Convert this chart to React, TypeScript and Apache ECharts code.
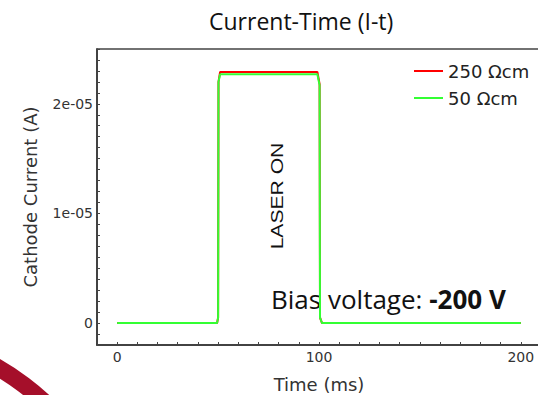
import React, { useEffect, useRef } from "react";
import * as echarts from "echarts";

// Time samples (ms) and cathode current (A) for each resistivity
const time250 = [0, 49.5, 50, 50.2, 51, 99.2, 100.3, 100.5, 101.5, 200];
const current250 = [0, 0, 5e-7, 2.2e-5, 2.29e-5, 2.29e-5, 2.18e-5, 5e-7, 0, 0];

const time50 = [0, 49.5, 50, 50.2, 51, 99.2, 100.3, 100.5, 101.5, 200];
const current50 = [0, 0, 5e-7, 2.2e-5, 2.27e-5, 2.27e-5, 2.17e-5, 5e-7, 0, 0];

const seriesNames = ["250 Ωcm", "50 Ωcm"];
const xTickLabels = [0, 100, 200];
const yTickLabels: [number, string][] = [
  [0, "0"],
  [1e-5, "1e-05"],
  [2e-5, "2e-05"],
];

const zip = (xs: number[], ys: number[]) => xs.map((x, i) => [x, ys[i]]);

const AXIS_FONT = "DejaVu Sans";

export default function App() {
  const ref = useRef<HTMLDivElement>(null);

  useEffect(() => {
    if (!ref.current) return;
    const chart = echarts.init(ref.current, null, { renderer: "svg" });
    chart.setOption({
      animation: false,
      backgroundColor: "#ffffff",
      title: {
        text: "Current-Time (I-t)",
        left: 204,
        top: 4,
        textStyle: {
          fontFamily: "Open Sans",
          fontSize: 23,
          fontWeight: "normal",
          color: "#111",
        },
      },
      legend: {
        data: seriesNames,
        orient: "vertical",
        left: 414,
        top: 62,
        padding: 0,
        icon: "rect",
        itemWidth: 29,
        itemHeight: 2,
        itemGap: 9,
        itemStyle: { borderWidth: 0 },
        textStyle: {
          fontFamily: AXIS_FONT,
          fontSize: 18,
          lineHeight: 18,
          color: "#222",
        },
      },
      grid: {
        left: 97,
        top: 49,
        width: 444,
        height: 296,
        outerBoundsMode: "none",
        containLabel: false,
        show: true,
        borderColor: "#444",
        borderWidth: 1.5,
        backgroundColor: "transparent",
      },
      xAxis: {
        type: "value",
        min: -10,
        max: 210,
        interval: 10,
        name: "Time (ms)",
        nameLocation: "middle",
        nameGap: 30,
        nameTextStyle: { fontFamily: AXIS_FONT, fontSize: 18, color: "#333" },
        axisLine: { onZero: false, lineStyle: { color: "#333", width: 1.5 } },
        axisTick: { inside: true, length: 3, lineStyle: { color: "#444" } },
        splitLine: { show: false },
        axisLabel: {
          margin: 5,
          fontFamily: AXIS_FONT,
          fontSize: 14,
          color: "#333",
          formatter: (v: number) => {
            const r = Math.round(v);
            return xTickLabels.includes(r) ? String(r) : "";
          },
        },
      },
      yAxis: {
        type: "value",
        min: -2e-6,
        max: 2.5e-5,
        interval: 1e-6,
        name: "Cathode Current (A)",
        nameLocation: "middle",
        nameGap: 58,
        nameTextStyle: { fontFamily: AXIS_FONT, fontSize: 18, color: "#333" },
        axisLine: { onZero: false, lineStyle: { color: "#333", width: 1.5 } },
        axisTick: { inside: true, length: 3, lineStyle: { color: "#444" } },
        splitLine: { show: false },
        axisLabel: {
          margin: 4,
          fontFamily: AXIS_FONT,
          fontSize: 14,
          color: "#333",
          formatter: (v: number) => {
            const hit = yTickLabels.find(([t]) => Math.abs(t - v) < 1e-7);
            return hit ? hit[1] : "";
          },
        },
      },
      series: [
        {
          name: seriesNames[0],
          type: "line",
          data: zip(time250, current250),
          showSymbol: false,
          color: "#ff0000",
          lineStyle: { color: "#ff0000", width: 2 },
        },
        {
          name: seriesNames[1],
          type: "line",
          data: zip(time50, current50),
          showSymbol: false,
          color: "#33ff33",
          lineStyle: { color: "#33ff33", width: 2 },
        },
      ],
      graphic: [
        {
          type: "text",
          x: 277,
          y: 196,
          rotation: Math.PI / 2,
          scaleX: 1.28,
          style: {
            text: "LASER ON",
            fontFamily: "Liberation Sans",
            fontSize: 16.5,
            fill: "#111",
            align: "center",
            verticalAlign: "middle",
          },
        },
        {
          type: "text",
          x: 271,
          y: 299,
          style: {
            text: "{a|Bias voltage: }{b|-200 V}",
            verticalAlign: "middle",
            rich: {
              a: { fontFamily: "Open Sans", fontSize: 26, fill: "#111" },
              b: {
                fontFamily: "Open Sans",
                fontSize: 26,
                fontWeight: "bold",
                fill: "#111",
              },
            },
          },
        },
        {
          type: "arc",
          shape: {
            cx: -134,
            cy: 594,
            r: 262,
            startAngle: -1.25,
            endAngle: -0.6,
            clockwise: true,
          },
          style: { stroke: "#a50f2a", lineWidth: 17, fill: null },
        },
      ],
    });
    return () => chart.dispose();
  }, []);

  return (
    <div
      ref={ref}
      style={{ position: "absolute", left: 0, top: 0, width: 538, height: 395 }}
    />
  );
}
